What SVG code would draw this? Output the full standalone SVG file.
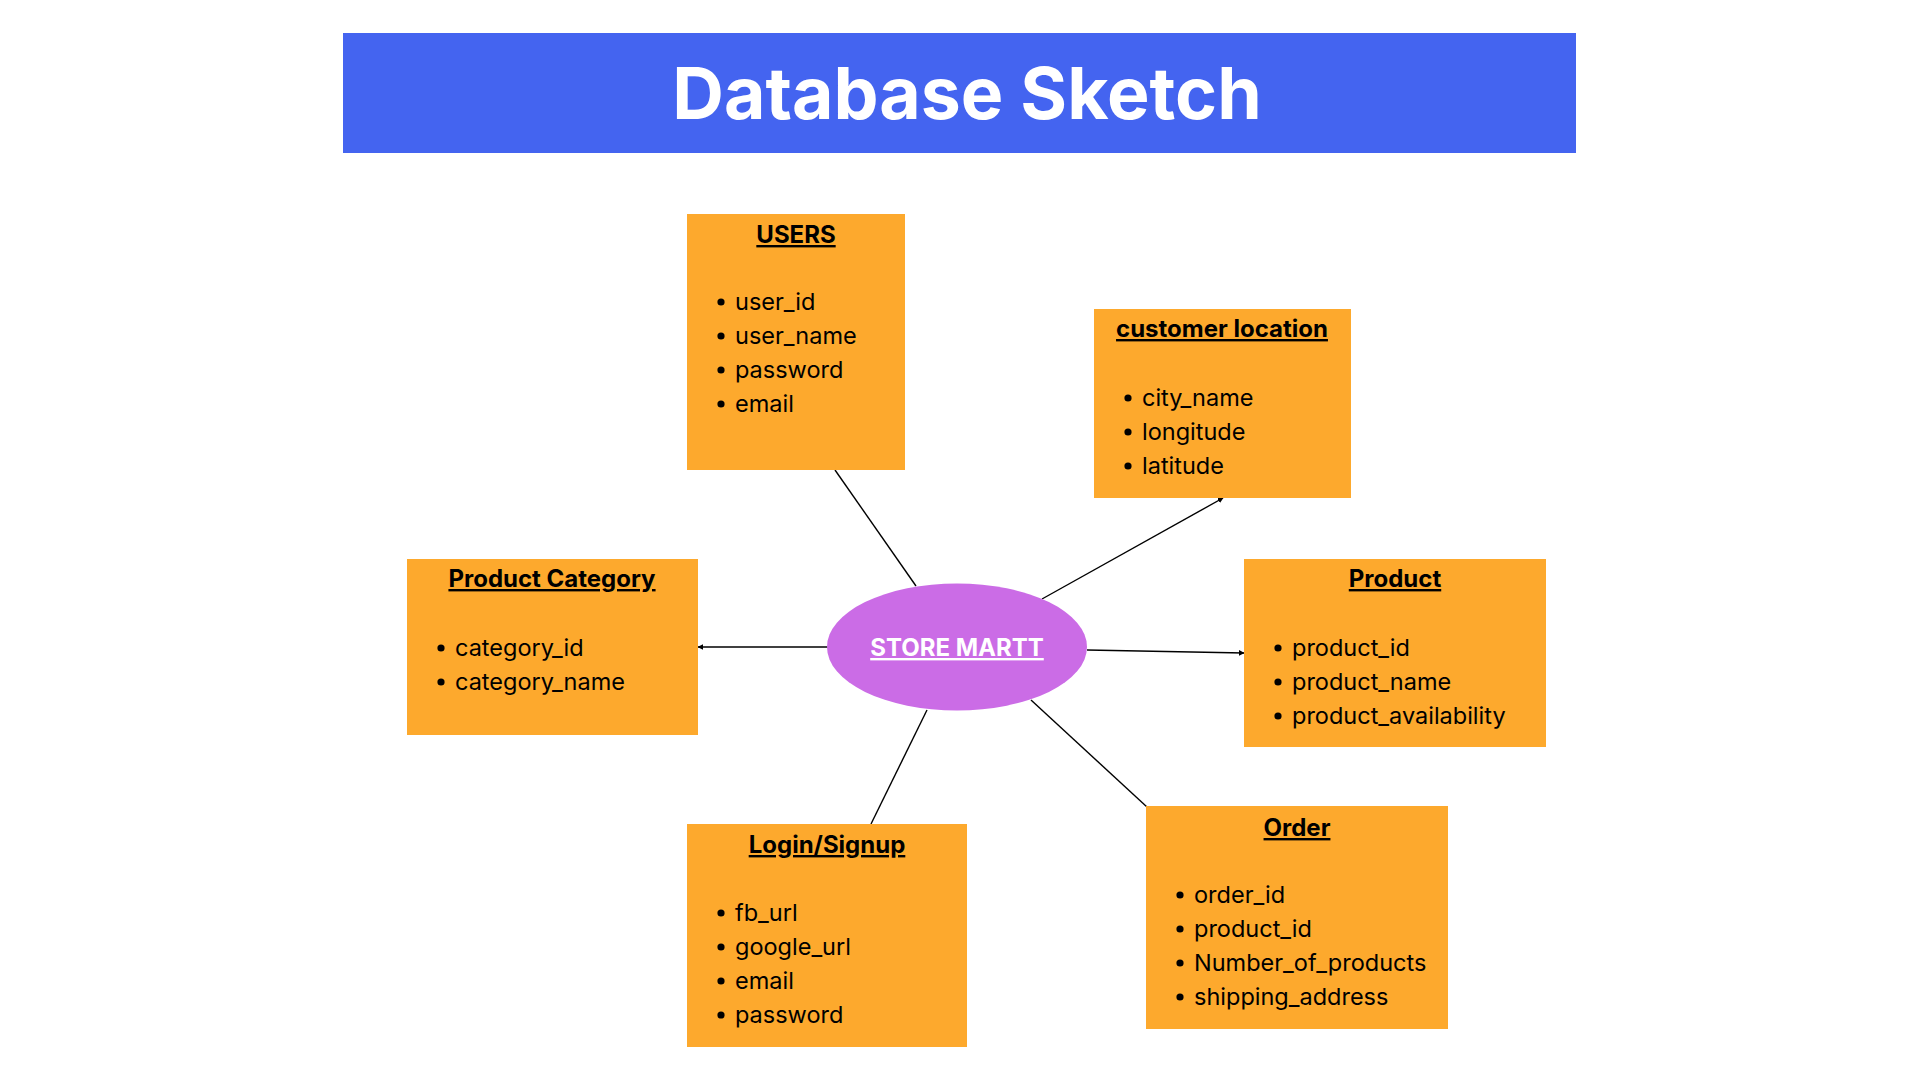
<svg xmlns="http://www.w3.org/2000/svg" width="1920" height="1080" viewBox="0 0 1920 1080">
  <style>
    .box { fill: #FDA92D; }
    .title { font-family: Inter, "Liberation Sans", sans-serif; font-weight: 700; font-size: 24px; fill: #000; text-decoration: underline; }
    .item { font-family: Inter, "Liberation Sans", sans-serif; font-size: 23.5px; fill: #000; }
    .conn { stroke: #000; stroke-width: 1.4; fill: none; }
  </style>
  <defs>
    <marker id="arr" viewBox="0 0 10 10" refX="9" refY="5" markerWidth="4" markerHeight="4" orient="auto" markerUnits="strokeWidth">
      <path d="M0,0 L10,5 L0,10 Z" fill="#000"/>
    </marker>
    <circle id="bullet" r="3.6" fill="#000"/>
  </defs>
  <rect width="1920" height="1080" fill="#fff"/>

  <g id="title-bar">
    <rect x="343" y="33" width="1233" height="120" fill="#4464F0"/>
    <text x="967" y="119" text-anchor="middle" font-family="Inter, 'Liberation Sans', sans-serif" font-weight="700" font-size="71.5" fill="#fff">Database Sketch</text>
  </g>

  <g id="connectors">
    <line class="conn" x1="835" y1="470" x2="916" y2="586"/>
    <line class="conn" x1="1042" y1="599" x2="1223" y2="498" marker-end="url(#arr)"/>
    <line class="conn" x1="828" y1="647" x2="698" y2="647" marker-end="url(#arr)"/>
    <line class="conn" x1="1087" y1="650" x2="1244" y2="653" marker-end="url(#arr)"/>
    <line class="conn" x1="927" y1="710" x2="871" y2="824"/>
    <line class="conn" x1="1031" y1="700" x2="1147" y2="807"/>
  </g>

  <g id="users">
    <rect class="box" x="687" y="214" width="218" height="256"/>
    <text class="title" x="796" y="243" text-anchor="middle">USERS</text>
    <use href="#bullet" x="721" y="302"/><text class="item" x="735" y="310">user_id</text>
    <use href="#bullet" x="721" y="336"/><text class="item" x="735" y="344">user_name</text>
    <use href="#bullet" x="721" y="370"/><text class="item" x="735" y="378">password</text>
    <use href="#bullet" x="721" y="404"/><text class="item" x="735" y="412">email</text>
  </g>

  <g id="customer-location">
    <rect class="box" x="1094" y="309" width="257" height="189"/>
    <text class="title" x="1222" y="337" text-anchor="middle">customer location</text>
    <use href="#bullet" x="1128" y="398"/><text class="item" x="1142" y="406">city_name</text>
    <use href="#bullet" x="1128" y="432"/><text class="item" x="1142" y="440">longitude</text>
    <use href="#bullet" x="1128" y="466"/><text class="item" x="1142" y="474">latitude</text>
  </g>

  <g id="product-category">
    <rect class="box" x="407" y="559" width="291" height="176"/>
    <text class="title" x="552" y="587" text-anchor="middle">Product Category</text>
    <use href="#bullet" x="441" y="648"/><text class="item" x="455" y="656">category_id</text>
    <use href="#bullet" x="441" y="682"/><text class="item" x="455" y="690">category_name</text>
  </g>

  <g id="product">
    <rect class="box" x="1244" y="559" width="302" height="188"/>
    <text class="title" x="1395" y="587" text-anchor="middle">Product</text>
    <use href="#bullet" x="1278" y="648"/><text class="item" x="1292" y="656">product_id</text>
    <use href="#bullet" x="1278" y="682"/><text class="item" x="1292" y="690">product_name</text>
    <use href="#bullet" x="1278" y="716"/><text class="item" x="1292" y="724">product_availability</text>
  </g>

  <g id="login-signup">
    <rect class="box" x="687" y="824" width="280" height="223"/>
    <text class="title" x="827" y="853" text-anchor="middle">Login/Signup</text>
    <use href="#bullet" x="721" y="913"/><text class="item" x="735" y="921">fb_url</text>
    <use href="#bullet" x="721" y="947"/><text class="item" x="735" y="955">google_url</text>
    <use href="#bullet" x="721" y="981"/><text class="item" x="735" y="989">email</text>
    <use href="#bullet" x="721" y="1015"/><text class="item" x="735" y="1023">password</text>
  </g>

  <g id="order">
    <rect class="box" x="1146" y="806" width="302" height="223"/>
    <text class="title" x="1297" y="836" text-anchor="middle">Order</text>
    <use href="#bullet" x="1180" y="895"/><text class="item" x="1194" y="903">order_id</text>
    <use href="#bullet" x="1180" y="929"/><text class="item" x="1194" y="937">product_id</text>
    <use href="#bullet" x="1180" y="963"/><text class="item" x="1194" y="971">Number_of_products</text>
    <use href="#bullet" x="1180" y="997"/><text class="item" x="1194" y="1005">shipping_address</text>
  </g>

  <g id="store-martt">
    <ellipse cx="957" cy="647" rx="130" ry="63.5" fill="#CB6CE6"/>
    <text x="957" y="656" text-anchor="middle" font-family="Inter, 'Liberation Sans', sans-serif" font-weight="700" font-size="24" fill="#fff" text-decoration="underline">STORE MARTT</text>
  </g>
</svg>
